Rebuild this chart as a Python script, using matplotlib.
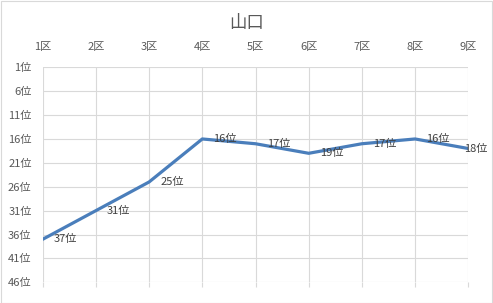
import matplotlib.pyplot as plt
from matplotlib.patches import Rectangle

plt.rcParams['font.family'] = ['Noto Sans CJK JP', 'DejaVu Sans']

# data
districts = ["1区", "2区", "3区", "4区", "5区", "6区", "7区", "8区", "9区"]
ranks = [37, 31, 25, 16, 17, 19, 17, 16, 18]
rank_ticks = [1, 6, 11, 16, 21, 26, 31, 36, 41, 46]
title = "山口"

text_color = "#595959"
grid_color = "#D9D9D9"
line_color = "#4A7EBB"

W, H = 493, 303
fig = plt.figure(figsize=(W / 100, H / 100), dpi=100)
ax = fig.add_axes([42.7 / W, 1 - 282.3 / H, (468.3 - 42.7) / W, (282.3 - 67.3) / H])

x = list(range(1, len(districts) + 1))
ax.plot(x, ranks, color=line_color, linewidth=2.3, solid_capstyle='round', zorder=3)

for i, (xi, r) in enumerate(zip(x, ranks)):
    if i == len(x) - 1:
        ax.annotate(f"{r}位", (xi, r), xytext=(14, 0), textcoords='offset points',
                    ha='right', va='center', fontsize=8, color='#404040', zorder=4)
    else:
        ax.annotate(f"{r}位", (xi, r), xytext=(8, 0), textcoords='offset points',
                    ha='left', va='center', fontsize=8, color='#404040', zorder=4)

ax.set_xlim(1, 9)
ax.set_ylim(46, 1)
ax.set_xticks(x)
ax.set_xticklabels(districts)
ax.set_yticks(rank_ticks)
ax.set_yticklabels([f"{t}位" for t in rank_ticks])

ax.xaxis.tick_top()
ax.tick_params(axis='x', which='both', top=False, bottom=True, labeltop=True, labelbottom=False,
               length=3.6, width=0.8, color=grid_color, labelsize=8, labelcolor=text_color, pad=7.5)
ax.tick_params(axis='y', length=0, labelsize=8, labelcolor=text_color, pad=8)

ax.grid(True, color=grid_color, linewidth=0.8, zorder=0)
for s in ax.spines.values():
    s.set_visible(False)

fig.text(0.5, 1 - 23 / H, title, ha='center', va='center', fontsize=12.5, color=text_color)

# chart border
fig.patches.append(Rectangle((0.5 / W, 0.5 / H), 1 - 1.5 / W, 1 - 1.5 / H, transform=fig.transFigure,
                             fill=False, edgecolor=grid_color, linewidth=0.8))

fig.savefig("out.png", dpi=100)
